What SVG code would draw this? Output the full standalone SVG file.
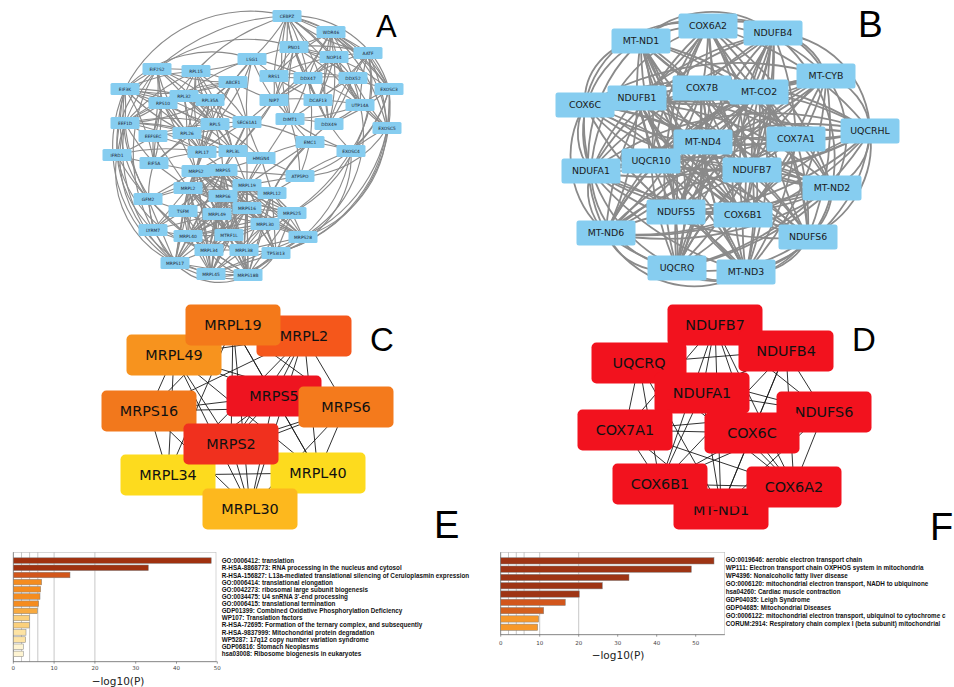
<svg xmlns="http://www.w3.org/2000/svg" xmlns:xlink="http://www.w3.org/1999/xlink" width="954" height="687" viewBox="0 0 954 687">
<style>
.ea path{fill:none;stroke:#8a8a8a;stroke-width:1.15}
.eb path{fill:none;stroke:#8a8a8a;stroke-width:1.8}
.ec path{fill:none;stroke:#1a1a1a;stroke-width:0.9}
.na text{font-family:"DejaVu Sans",sans-serif;font-size:4.4px;text-anchor:middle;fill:#1a2230}
.nb text{font-family:"DejaVu Sans",sans-serif;font-size:9.4px;text-anchor:middle;fill:#1a1a1a}
.nc text{font-family:"DejaVu Sans",sans-serif;font-size:14.4px;text-anchor:middle;fill:#111}
.lbl{font-family:"Liberation Sans",Arial,sans-serif;fill:#000}
.tick{font-family:"DejaVu Sans",sans-serif;font-size:5.5px;text-anchor:middle;fill:#444}
.xl{font-family:"DejaVu Sans",sans-serif;font-size:10.5px;text-anchor:middle;fill:#222}
.term{font-family:"Liberation Sans",Arial,sans-serif;font-weight:bold;font-size:6.3px;fill:#111}
.grid{fill:none;stroke:#b0b0b0;stroke-width:0.7}
.frame{fill:none;stroke:#bdbdbd;stroke-width:0.6}
.axis{fill:none;stroke:#555;stroke-width:0.6}
.bar{stroke:#808080;stroke-width:0.5}
</style>
<defs>
<rect id="ra" x="-14.5" y="-6" width="29" height="12" rx="1.5" fill="#86CDF0"/>
<rect id="rb" x="-29.5" y="-12.5" width="59" height="25" rx="2.5" fill="#86CDF0"/>
<rect id="rc" x="-47.5" y="-20.5" width="95" height="41" rx="5"/>
<clipPath id="clipnd1"><rect x="660" y="506.5" width="120" height="30"/></clipPath>
</defs>
<rect width="954" height="687" fill="#fff"/>

<!-- Panel A edges -->
<g id="edges-A" class="ea">
<path d="M287 16A200 200 0 0 1 331 32"/><path d="M287 16A200 200 0 0 0 294 47"/><path d="M287 16A200 200 0 0 1 334 57"/><path d="M287 16A200 200 0 0 0 368 53"/><path d="M287 16A200 200 0 0 1 252 59"/><path d="M287 16A200 200 0 0 0 274 76"/><path d="M287 16A200 200 0 0 1 308 78"/><path d="M287 16A200 200 0 0 0 353 78"/><path d="M287 16A200 200 0 0 1 274 100"/><path d="M287 16A200 200 0 0 0 318 100"/><path d="M287 16A200 200 0 0 1 360 105"/><path d="M287 16A200 200 0 0 0 290 119"/><path d="M287 16A200 200 0 0 1 329 124"/><path d="M287 16A200 200 0 0 1 389 89"/><path d="M287 16A200 200 0 0 0 196 71"/><path d="M287 16A200 200 0 0 0 157 69"/><path d="M287 16A140 140 0 0 0 125 89"/>
<path d="M331 32A200 200 0 0 1 294 47"/><path d="M331 32A200 200 0 0 0 334 57"/><path d="M331 32A200 200 0 0 1 368 53"/><path d="M331 32A200 200 0 0 0 308 78"/><path d="M331 32A200 200 0 0 1 353 78"/><path d="M331 32A200 200 0 0 1 389 89"/><path d="M331 32A200 200 0 0 0 360 105"/><path d="M331 32A200 200 0 0 1 318 100"/><path d="M331 32A200 200 0 0 0 274 76"/><path d="M331 32A200 200 0 0 1 274 100"/><path d="M331 32A200 200 0 0 0 329 124"/><path d="M331 32A200 200 0 0 1 387 128"/>
<path d="M294 47A200 200 0 0 0 334 57"/><path d="M294 47A200 200 0 0 1 368 53"/><path d="M294 47A200 200 0 0 0 308 78"/><path d="M294 47A200 200 0 0 1 353 78"/><path d="M294 47A200 200 0 0 0 274 76"/><path d="M294 47A200 200 0 0 1 274 100"/><path d="M294 47A200 200 0 0 0 318 100"/><path d="M294 47A200 200 0 0 1 360 105"/><path d="M294 47A200 200 0 0 0 290 119"/><path d="M294 47A200 200 0 0 1 389 89"/><path d="M294 47A200 200 0 0 0 252 59"/>
<path d="M334 57A200 200 0 0 1 368 53"/><path d="M334 57A200 200 0 0 0 308 78"/><path d="M334 57A200 200 0 0 1 353 78"/><path d="M334 57A200 200 0 0 0 360 105"/><path d="M334 57A200 200 0 0 1 318 100"/><path d="M334 57A200 200 0 0 0 274 76"/><path d="M334 57A200 200 0 0 1 274 100"/><path d="M334 57A200 200 0 0 0 387 128"/><path d="M334 57A200 200 0 0 1 329 124"/>
<path d="M368 53A200 200 0 0 0 353 78"/><path d="M368 53A200 200 0 0 1 389 89"/><path d="M368 53A200 200 0 0 0 360 105"/><path d="M368 53A200 200 0 0 1 318 100"/><path d="M368 53A200 200 0 0 0 308 78"/><path d="M368 53A200 200 0 0 1 387 128"/><path d="M368 53A120 120 0 0 1 351 151"/><path d="M368 53A200 200 0 0 0 329 124"/>
<path d="M252 59A200 200 0 0 1 274 76"/><path d="M252 59A200 200 0 0 0 274 100"/><path d="M252 59A200 200 0 0 1 196 71"/><path d="M252 59A200 200 0 0 0 233 82"/><path d="M252 59A200 200 0 0 1 210 100"/><path d="M252 59A200 200 0 0 0 184 96"/><path d="M252 59A200 200 0 0 1 308 78"/><path d="M252 59A200 200 0 0 0 247 122"/><path d="M252 59A200 200 0 0 1 215 124"/>
<path d="M274 76A200 200 0 0 0 308 78"/><path d="M274 76A200 200 0 0 1 274 100"/><path d="M274 76A200 200 0 0 0 318 100"/><path d="M274 76A200 200 0 0 1 353 78"/><path d="M274 76A200 200 0 0 0 290 119"/>
<path d="M308 78A200 200 0 0 1 353 78"/><path d="M308 78A200 200 0 0 0 318 100"/><path d="M308 78A200 200 0 0 1 360 105"/><path d="M308 78A200 200 0 0 0 274 100"/><path d="M308 78A200 200 0 0 1 290 119"/><path d="M308 78A200 200 0 0 0 329 124"/><path d="M308 78A200 200 0 0 1 310 142"/>
<path d="M353 78A200 200 0 0 0 389 89"/><path d="M353 78A200 200 0 0 1 360 105"/><path d="M353 78A200 200 0 0 0 318 100"/><path d="M353 78A200 200 0 0 1 329 124"/><path d="M353 78A200 200 0 0 0 387 128"/>
<path d="M389 89A200 200 0 0 1 387 128"/><path d="M389 89A120 120 0 0 1 351 151"/><path d="M389 89A200 200 0 0 0 360 105"/><path d="M389 89A200 200 0 0 1 329 124"/><path d="M389 89A150 150 0 0 1 303 237"/>
<path d="M387 128A200 200 0 0 0 351 151"/><path d="M351 151A200 200 0 0 1 329 124"/><path d="M351 151A200 200 0 0 0 310 142"/><path d="M351 151A200 200 0 0 1 290 119"/>
<path d="M360 105A200 200 0 0 0 318 100"/><path d="M360 105A200 200 0 0 1 329 124"/><path d="M360 105A200 200 0 0 0 387 128"/><path d="M360 105A200 200 0 0 1 290 119"/>
<path d="M318 100A200 200 0 0 0 274 100"/><path d="M318 100A200 200 0 0 1 290 119"/><path d="M318 100A200 200 0 0 0 329 124"/><path d="M274 100A200 200 0 0 1 290 119"/><path d="M274 100A200 200 0 0 0 247 122"/><path d="M274 100A200 200 0 0 1 233 151"/>
<path d="M290 119A200 200 0 0 0 310 142"/><path d="M290 119A200 200 0 0 1 329 124"/><path d="M310 142A200 200 0 0 0 247 122"/><path d="M310 142A200 200 0 0 1 300 176"/><path d="M310 142A200 200 0 0 0 261 158"/>
<path d="M157 69A200 200 0 0 1 196 71"/><path d="M157 69A200 200 0 0 0 125 89"/><path d="M157 69A200 200 0 0 1 184 96"/><path d="M157 69A200 200 0 0 0 163 103"/><path d="M157 69A200 200 0 0 1 210 100"/><path d="M157 69A200 200 0 0 0 125 123"/><path d="M157 69A200 200 0 0 1 215 124"/><path d="M157 69A200 200 0 0 0 187 133"/><path d="M157 69A200 200 0 0 1 154 163"/><path d="M157 69A200 200 0 0 0 233 82"/><path d="M157 69A200 200 0 0 1 153 136"/><path d="M157 69A100 100 0 0 0 117 155"/>
<path d="M196 71A200 200 0 0 0 184 96"/><path d="M196 71A200 200 0 0 1 163 103"/><path d="M196 71A200 200 0 0 0 210 100"/><path d="M196 71A200 200 0 0 1 233 82"/><path d="M196 71A200 200 0 0 0 215 124"/><path d="M196 71A200 200 0 0 1 187 133"/><path d="M196 71A200 200 0 0 0 202 152"/><path d="M196 71A200 200 0 0 1 233 151"/><path d="M196 71A200 200 0 0 0 125 89"/><path d="M196 71A200 200 0 0 1 247 122"/><path d="M196 71A200 200 0 0 0 125 123"/>
<path d="M125 89A200 200 0 0 1 184 96"/><path d="M125 89A200 200 0 0 0 163 103"/><path d="M125 89A200 200 0 0 1 125 123"/><path d="M125 89A200 200 0 0 0 187 133"/><path d="M125 89A200 200 0 0 1 154 163"/><path d="M125 89A200 200 0 0 0 210 100"/><path d="M125 89A200 200 0 0 1 215 124"/><path d="M125 89A200 200 0 0 0 117 155"/><path d="M125 89A200 200 0 0 1 202 152"/><path d="M125 89A140 140 0 0 0 175 263"/>
<path d="M184 96A200 200 0 0 0 163 103"/><path d="M184 96A200 200 0 0 1 210 100"/><path d="M184 96A200 200 0 0 0 215 124"/><path d="M184 96A200 200 0 0 1 187 133"/><path d="M184 96A200 200 0 0 0 202 152"/><path d="M184 96A200 200 0 0 1 233 151"/><path d="M184 96A200 200 0 0 0 125 123"/><path d="M184 96A200 200 0 0 1 233 82"/><path d="M184 96A200 200 0 0 0 247 122"/>
<path d="M163 103A200 200 0 0 1 210 100"/><path d="M163 103A200 200 0 0 0 215 124"/><path d="M163 103A200 200 0 0 1 187 133"/><path d="M163 103A200 200 0 0 0 202 152"/><path d="M163 103A200 200 0 0 1 125 123"/><path d="M163 103A200 200 0 0 0 153 136"/><path d="M163 103A200 200 0 0 1 233 151"/><path d="M163 103A200 200 0 0 0 154 163"/>
<path d="M210 100A200 200 0 0 1 233 82"/><path d="M210 100A200 200 0 0 0 215 124"/><path d="M210 100A200 200 0 0 1 187 133"/><path d="M210 100A200 200 0 0 0 202 152"/><path d="M210 100A200 200 0 0 1 233 151"/><path d="M210 100A200 200 0 0 0 247 122"/><path d="M210 100A200 200 0 0 1 125 123"/>
<path d="M233 82A200 200 0 0 0 215 124"/><path d="M233 82A200 200 0 0 1 187 133"/><path d="M233 82A200 200 0 0 0 202 152"/><path d="M233 82A200 200 0 0 1 247 122"/><path d="M233 82A200 200 0 0 0 125 123"/><path d="M233 82A200 200 0 0 1 125 89"/><path d="M233 82A200 200 0 0 0 274 100"/>
<path d="M125 123A200 200 0 0 1 187 133"/><path d="M125 123A200 200 0 0 0 153 136"/><path d="M125 123A200 200 0 0 1 202 152"/><path d="M125 123A200 200 0 0 0 154 163"/><path d="M125 123A200 200 0 0 1 215 124"/><path d="M125 123A200 200 0 0 0 117 155"/><path d="M125 123A200 200 0 0 1 233 151"/><path d="M125 123A200 200 0 0 0 148 199"/>
<path d="M247 122A200 200 0 0 0 215 124"/><path d="M247 122A200 200 0 0 1 187 133"/><path d="M247 122A200 200 0 0 0 202 152"/><path d="M247 122A200 200 0 0 1 233 151"/><path d="M247 122A200 200 0 0 0 261 158"/>
<path d="M215 124A200 200 0 0 1 187 133"/><path d="M215 124A200 200 0 0 0 202 152"/><path d="M215 124A200 200 0 0 1 233 151"/><path d="M215 124A200 200 0 0 0 153 136"/><path d="M215 124A200 200 0 0 1 261 158"/><path d="M215 124A200 200 0 0 0 154 163"/><path d="M215 124A200 200 0 0 1 223 170"/>
<path d="M187 133A200 200 0 0 0 202 152"/><path d="M187 133A200 200 0 0 1 233 151"/><path d="M187 133A200 200 0 0 0 153 136"/><path d="M187 133A200 200 0 0 1 154 163"/><path d="M187 133A200 200 0 0 0 261 158"/>
<path d="M153 136A200 200 0 0 1 202 152"/><path d="M153 136A200 200 0 0 0 154 163"/><path d="M153 136A200 200 0 0 1 117 155"/><path d="M202 152A200 200 0 0 0 233 151"/><path d="M202 152A200 200 0 0 1 261 158"/><path d="M202 152A200 200 0 0 0 154 163"/><path d="M202 152A200 200 0 0 1 196 171"/>
<path d="M117 155A200 200 0 0 0 154 163"/><path d="M117 155A200 200 0 0 1 202 152"/><path d="M117 155A200 200 0 0 0 148 199"/><path d="M117 155A120 120 0 0 0 153 230"/><path d="M233 151A200 200 0 0 1 261 158"/><path d="M261 158A200 200 0 0 0 247 185"/>
<path d="M290 119A200 200 0 0 1 300 176"/><path d="M310 142A200 200 0 0 0 272 193"/><path d="M351 151A150 150 0 0 1 303 237"/><path d="M351 151A200 200 0 0 0 300 176"/><path d="M387 128A150 150 0 0 1 276 253"/><path d="M351 151A200 200 0 0 1 292 213"/><path d="M329 124A200 200 0 0 0 272 193"/>
<path d="M125 123A150 150 0 0 0 175 263"/><path d="M117 155A100 100 0 0 0 175 263"/><path d="M125 89A150 150 0 0 0 188 236"/><path d="M157 69A160 160 0 0 0 153 230"/><path d="M125 123A120 120 0 0 0 211 274"/><path d="M117 155A120 120 0 0 0 209 250"/><path d="M125 89A120 120 0 0 0 148 199"/><path d="M154 163A100 100 0 0 0 175 263"/>
<path d="M389 89A150 150 0 0 1 276 253"/><path d="M387 128A120 120 0 0 1 303 237"/><path d="M368 53A150 150 0 0 1 292 213"/><path d="M389 89A120 120 0 0 1 300 176"/><path d="M387 128A100 100 0 0 1 300 176"/><path d="M351 151A100 100 0 0 1 276 253"/><path d="M360 105A120 120 0 0 1 303 237"/><path d="M331 32A120 120 0 0 1 389 89"/><path d="M287 16A100 100 0 0 1 389 89"/><path d="M287 16A120 120 0 0 1 387 128"/>
<path d="M252 59A120 120 0 0 0 125 89"/><path d="M294 47A150 150 0 0 0 157 69"/>
<path d="M202 152 223 170"/><path d="M233 151 196 171"/><path d="M233 151 223 170"/><path d="M233 151 247 185"/><path d="M261 158 223 170"/><path d="M261 158 272 193"/><path d="M187 133 196 171"/><path d="M215 124 196 171"/><path d="M154 163 196 171"/><path d="M154 163 188 188"/><path d="M202 152 188 188"/><path d="M247 122 223 170"/><path d="M247 122 247 185"/><path d="M290 119 247 185"/><path d="M274 100 223 170"/><path d="M310 142 247 185"/><path d="M261 158 300 176"/><path d="M210 100 196 171"/><path d="M163 103 196 171"/><path d="M153 136 188 188"/>
<path d="M196 171 223 170"/><path d="M196 171 188 188"/><path d="M196 171 247 185"/><path d="M196 171 272 193"/><path d="M196 171 223 196"/><path d="M196 171 247 208"/><path d="M196 171 183 211"/><path d="M196 171 217 214"/><path d="M196 171 292 213"/><path d="M196 171 265 224"/><path d="M196 171 188 236"/><path d="M196 171 229 235"/><path d="M196 171 303 237"/><path d="M196 171 209 250"/><path d="M196 171 244 250"/><path d="M196 171 175 263"/><path d="M196 171 211 274"/><path d="M196 171 248 275"/><path d="M196 171 148 199"/>
<path d="M223 170 188 188"/><path d="M223 170 247 185"/><path d="M223 170 272 193"/><path d="M223 170 223 196"/><path d="M223 170 247 208"/><path d="M223 170 183 211"/><path d="M223 170 217 214"/><path d="M223 170 292 213"/><path d="M223 170 265 224"/><path d="M223 170 188 236"/><path d="M223 170 229 235"/><path d="M223 170 303 237"/><path d="M223 170 209 250"/><path d="M223 170 244 250"/><path d="M223 170 276 253"/><path d="M223 170 175 263"/><path d="M223 170 211 274"/><path d="M223 170 248 275"/><path d="M223 170 300 176"/><path d="M223 170 148 199"/><path d="M223 170 153 230"/>
<path d="M188 188 247 185"/><path d="M188 188 272 193"/><path d="M188 188 223 196"/><path d="M188 188 247 208"/><path d="M188 188 183 211"/><path d="M188 188 217 214"/><path d="M188 188 292 213"/><path d="M188 188 265 224"/><path d="M188 188 188 236"/><path d="M188 188 229 235"/><path d="M188 188 303 237"/><path d="M188 188 209 250"/><path d="M188 188 244 250"/><path d="M188 188 175 263"/><path d="M188 188 211 274"/><path d="M188 188 248 275"/><path d="M188 188 148 199"/><path d="M188 188 153 230"/>
<path d="M247 185 272 193"/><path d="M247 185 223 196"/><path d="M247 185 247 208"/><path d="M247 185 217 214"/><path d="M247 185 292 213"/><path d="M247 185 265 224"/><path d="M247 185 188 236"/><path d="M247 185 229 235"/><path d="M247 185 303 237"/><path d="M247 185 209 250"/><path d="M247 185 244 250"/><path d="M247 185 276 253"/><path d="M247 185 211 274"/><path d="M247 185 248 275"/><path d="M247 185 300 176"/><path d="M247 185 183 211"/>
<path d="M272 193 223 196"/><path d="M272 193 247 208"/><path d="M272 193 217 214"/><path d="M272 193 292 213"/><path d="M272 193 265 224"/><path d="M272 193 303 237"/><path d="M272 193 244 250"/><path d="M272 193 276 253"/><path d="M272 193 248 275"/><path d="M272 193 300 176"/><path d="M272 193 188 236"/>
<path d="M223 196 247 208"/><path d="M223 196 217 214"/><path d="M223 196 265 224"/><path d="M223 196 188 236"/><path d="M223 196 209 250"/><path d="M223 196 244 250"/><path d="M223 196 229 235"/><path d="M223 196 175 263"/><path d="M223 196 211 274"/><path d="M223 196 248 275"/><path d="M223 196 183 211"/><path d="M223 196 292 213"/><path d="M223 196 303 237"/>
<path d="M247 208 217 214"/><path d="M247 208 292 213"/><path d="M247 208 265 224"/><path d="M247 208 188 236"/><path d="M247 208 229 235"/><path d="M247 208 209 250"/><path d="M247 208 244 250"/><path d="M247 208 175 263"/><path d="M247 208 211 274"/><path d="M247 208 248 275"/><path d="M247 208 303 237"/><path d="M247 208 276 253"/>
<path d="M217 214 265 224"/><path d="M217 214 188 236"/><path d="M217 214 229 235"/><path d="M217 214 209 250"/><path d="M217 214 244 250"/><path d="M217 214 175 263"/><path d="M217 214 211 274"/><path d="M217 214 248 275"/><path d="M217 214 183 211"/><path d="M217 214 153 230"/>
<path d="M183 211 148 199"/><path d="M183 211 188 236"/><path d="M183 211 209 250"/><path d="M183 211 229 235"/><path d="M183 211 175 263"/><path d="M183 211 153 230"/><path d="M183 211 211 274"/>
<path d="M148 199 153 230"/><path d="M148 199 175 263"/><path d="M148 199 188 236"/>
<path d="M292 213 265 224"/><path d="M292 213 303 237"/><path d="M292 213 244 250"/><path d="M292 213 276 253"/><path d="M292 213 248 275"/><path d="M292 213 188 236"/>
<path d="M265 224 188 236"/><path d="M265 224 229 235"/><path d="M265 224 303 237"/><path d="M265 224 209 250"/><path d="M265 224 244 250"/><path d="M265 224 276 253"/><path d="M265 224 248 275"/><path d="M265 224 211 274"/>
<path d="M153 230 188 236"/><path d="M153 230 175 263"/><path d="M153 230 209 250"/>
<path d="M188 236 229 235"/><path d="M188 236 209 250"/><path d="M188 236 244 250"/><path d="M188 236 175 263"/><path d="M188 236 211 274"/><path d="M188 236 248 275"/>
<path d="M229 235 209 250"/><path d="M229 235 244 250"/><path d="M229 235 248 275"/><path d="M229 235 211 274"/>
<path d="M303 237 276 253"/><path d="M303 237 244 250"/><path d="M303 237 248 275"/><path d="M303 237 211 274"/>
<path d="M209 250 244 250"/><path d="M209 250 175 263"/><path d="M209 250 211 274"/><path d="M209 250 248 275"/>
<path d="M244 250 276 253"/><path d="M244 250 211 274"/><path d="M244 250 248 275"/><path d="M276 253 248 275"/><path d="M276 253 211 274"/><path d="M175 263 211 274"/><path d="M175 263 248 275"/><path d="M211 274 248 275"/>
<path d="M175 263A60 60 0 0 0 248 275"/><path d="M211 274A50 50 0 0 0 276 253"/><path d="M175 263A80 80 0 0 0 276 253"/><path d="M209 250A50 50 0 0 0 248 275"/>
</g>

<!-- Panel A nodes -->
<g class="na">
<g id="A_CEBPZ" transform="translate(287 16)"><use href="#ra"/><text y="1.6">CEBPZ</text></g>
<g id="A_WDR46" transform="translate(331 32)"><use href="#ra"/><text y="1.6">WDR46</text></g>
<g id="A_PNO1" transform="translate(294 47)"><use href="#ra"/><text y="1.6">PNO1</text></g>
<g id="A_NOP14" transform="translate(334 57)"><use href="#ra"/><text y="1.6">NOP14</text></g>
<g id="A_AATF" transform="translate(368 53)"><use href="#ra"/><text y="1.6">AATF</text></g>
<g id="A_LSG1" transform="translate(252 59)"><use href="#ra"/><text y="1.6">LSG1</text></g>
<g id="A_EIF2S2" transform="translate(157 69)"><use href="#ra"/><text y="1.6">EIF2S2</text></g>
<g id="A_RPL15" transform="translate(196 71)"><use href="#ra"/><text y="1.6">RPL15</text></g>
<g id="A_RRS1" transform="translate(274 76)"><use href="#ra"/><text y="1.6">RRS1</text></g>
<g id="A_DDX47" transform="translate(308 78)"><use href="#ra"/><text y="1.6">DDX47</text></g>
<g id="A_DDX52" transform="translate(353 78)"><use href="#ra"/><text y="1.6">DDX52</text></g>
<g id="A_ABCE1" transform="translate(233 82)"><use href="#ra"/><text y="1.6">ABCE1</text></g>
<g id="A_EIF3K" transform="translate(125 89)"><use href="#ra"/><text y="1.6">EIF3K</text></g>
<g id="A_EXOSC3" transform="translate(389 89)"><use href="#ra"/><text y="1.6">EXOSC3</text></g>
<g id="A_RPL32" transform="translate(184 96)"><use href="#ra"/><text y="1.6">RPL32</text></g>
<g id="A_RPS10" transform="translate(163 103)"><use href="#ra"/><text y="1.6">RPS10</text></g>
<g id="A_RPL35A" transform="translate(210 100)"><use href="#ra"/><text y="1.6">RPL35A</text></g>
<g id="A_NIP7" transform="translate(274 100)"><use href="#ra"/><text y="1.6">NIP7</text></g>
<g id="A_DCAF13" transform="translate(318 100)"><use href="#ra"/><text y="1.6">DCAF13</text></g>
<g id="A_UTP14A" transform="translate(360 105)"><use href="#ra"/><text y="1.6">UTP14A</text></g>
<g id="A_EEF1D" transform="translate(125 123)"><use href="#ra"/><text y="1.6">EEF1D</text></g>
<g id="A_DIMT1" transform="translate(290 119)"><use href="#ra"/><text y="1.6">DIMT1</text></g>
<g id="A_RPL5" transform="translate(215 124)"><use href="#ra"/><text y="1.6">RPL5</text></g>
<g id="A_SEC61A1" transform="translate(247 122)"><use href="#ra"/><text y="1.6">SEC61A1</text></g>
<g id="A_DDX49" transform="translate(329 124)"><use href="#ra"/><text y="1.6">DDX49</text></g>
<g id="A_EXOSC5" transform="translate(387 128)"><use href="#ra"/><text y="1.6">EXOSC5</text></g>
<g id="A_RPL26" transform="translate(187 133)"><use href="#ra"/><text y="1.6">RPL26</text></g>
<g id="A_EEFSEC" transform="translate(153 136)"><use href="#ra"/><text y="1.6">EEFSEC</text></g>
<g id="A_EMC1" transform="translate(310 142)"><use href="#ra"/><text y="1.6">EMC1</text></g>
<g id="A_EXOSC4" transform="translate(351 151)"><use href="#ra"/><text y="1.6">EXOSC4</text></g>
<g id="A_IFRD1" transform="translate(117 155)"><use href="#ra"/><text y="1.6">IFRD1</text></g>
<g id="A_RPL17" transform="translate(202 152)"><use href="#ra"/><text y="1.6">RPL17</text></g>
<g id="A_RPL3L" transform="translate(233 151)"><use href="#ra"/><text y="1.6">RPL3L</text></g>
<g id="A_HMGN4" transform="translate(261 158)"><use href="#ra"/><text y="1.6">HMGN4</text></g>
<g id="A_EIF5A" transform="translate(154 163)"><use href="#ra"/><text y="1.6">EIF5A</text></g>
<g id="A_MRPS2" transform="translate(196 171)"><use href="#ra"/><text y="1.6">MRPS2</text></g>
<g id="A_MRPS5" transform="translate(223 170)"><use href="#ra"/><text y="1.6">MRPS5</text></g>
<g id="A_ATP5PO" transform="translate(300 176)"><use href="#ra"/><text y="1.6">ATP5PO</text></g>
<g id="A_MRPL2" transform="translate(188 188)"><use href="#ra"/><text y="1.6">MRPL2</text></g>
<g id="A_MRPL19" transform="translate(247 185)"><use href="#ra"/><text y="1.6">MRPL19</text></g>
<g id="A_MRPL12" transform="translate(272 193)"><use href="#ra"/><text y="1.6">MRPL12</text></g>
<g id="A_MRPS6" transform="translate(223 196)"><use href="#ra"/><text y="1.6">MRPS6</text></g>
<g id="A_GFM2" transform="translate(148 199)"><use href="#ra"/><text y="1.6">GFM2</text></g>
<g id="A_MRPS16" transform="translate(247 208)"><use href="#ra"/><text y="1.6">MRPS16</text></g>
<g id="A_TSFM" transform="translate(183 211)"><use href="#ra"/><text y="1.6">TSFM</text></g>
<g id="A_MRPL49" transform="translate(217 214)"><use href="#ra"/><text y="1.6">MRPL49</text></g>
<g id="A_MRPS25" transform="translate(292 213)"><use href="#ra"/><text y="1.6">MRPS25</text></g>
<g id="A_MRPL30" transform="translate(265 224)"><use href="#ra"/><text y="1.6">MRPL30</text></g>
<g id="A_LYRM7" transform="translate(153 230)"><use href="#ra"/><text y="1.6">LYRM7</text></g>
<g id="A_MRPL40" transform="translate(188 236)"><use href="#ra"/><text y="1.6">MRPL40</text></g>
<g id="A_MTRF1L" transform="translate(229 235)"><use href="#ra"/><text y="1.6">MTRF1L</text></g>
<g id="A_MRPS28" transform="translate(303 237)"><use href="#ra"/><text y="1.6">MRPS28</text></g>
<g id="A_MRPL34" transform="translate(209 250)"><use href="#ra"/><text y="1.6">MRPL34</text></g>
<g id="A_MRPL38" transform="translate(244 250)"><use href="#ra"/><text y="1.6">MRPL38</text></g>
<g id="A_TP53I13" transform="translate(276 253)"><use href="#ra"/><text y="1.6">TP53I13</text></g>
<g id="A_MRPS17" transform="translate(175 263)"><use href="#ra"/><text y="1.6">MRPS17</text></g>
<g id="A_MRPL45" transform="translate(211 274)"><use href="#ra"/><text y="1.6">MRPL45</text></g>
<g id="A_MRPS18B" transform="translate(248 275)"><use href="#ra"/><text y="1.6">MRPS18B</text></g>
</g>

<!-- Panel B edges -->
<g id="edges-B" class="eb">
<path d="M641 41A60 60 0 0 1 708 26"/><path d="M708 26A60 60 0 0 1 773 33"/><path d="M773 33A60 60 0 0 1 826 76"/><path d="M826 76A60 60 0 0 1 870 131"/><path d="M870 131A60 60 0 0 1 832 188"/><path d="M832 188A60 60 0 0 1 808 237"/><path d="M808 237A60 60 0 0 1 746 272"/><path d="M746 272A60 60 0 0 1 677 268"/><path d="M677 268A60 60 0 0 1 606 233"/><path d="M606 233A60 60 0 0 1 591 171"/><path d="M591 171A60 60 0 0 1 585 105"/><path d="M585 105A60 60 0 0 1 641 41"/>
<path d="M641 41A100 100 0 0 1 773 33"/><path d="M708 26A100 100 0 0 1 826 76"/><path d="M773 33A100 100 0 0 1 870 131"/><path d="M826 76A100 100 0 0 1 832 188"/><path d="M870 131A100 100 0 0 1 808 237"/><path d="M832 188A100 100 0 0 1 746 272"/><path d="M808 237A100 100 0 0 1 677 268"/><path d="M746 272A100 100 0 0 1 606 233"/><path d="M677 268A100 100 0 0 1 591 171"/><path d="M606 233A100 100 0 0 1 585 105"/><path d="M591 171A100 100 0 0 1 641 41"/><path d="M585 105A100 100 0 0 1 708 26"/>
<path d="M641 41A160 160 0 0 1 826 76"/><path d="M870 131A160 160 0 0 1 746 272"/><path d="M677 268A160 160 0 0 1 585 105"/><path d="M591 171A160 160 0 0 1 708 26"/><path d="M773 33A160 160 0 0 1 832 188"/><path d="M808 237A160 160 0 0 1 606 233"/><path d="M606 233A160 160 0 0 1 641 41"/>
<path d="M641 41A300 300 0 0 0 702 88"/><path d="M641 41A300 300 0 0 1 759 92"/><path d="M641 41A300 300 0 0 0 637 98"/><path d="M641 41A300 300 0 0 0 870 131"/><path d="M641 41A300 300 0 0 1 796 139"/><path d="M641 41A300 300 0 0 0 703 142"/><path d="M641 41A300 300 0 0 1 651 161"/><path d="M641 41A300 300 0 0 1 752 170"/><path d="M641 41A300 300 0 0 0 832 188"/><path d="M641 41A300 300 0 0 1 676 212"/><path d="M641 41A300 300 0 0 0 743 215"/><path d="M641 41A300 300 0 0 0 808 237"/><path d="M641 41A300 300 0 0 1 677 268"/><path d="M641 41A300 300 0 0 0 746 272"/>
<path d="M708 26A300 300 0 0 1 702 88"/><path d="M708 26A300 300 0 0 0 759 92"/><path d="M708 26A300 300 0 0 1 637 98"/><path d="M708 26A300 300 0 0 1 870 131"/><path d="M708 26A300 300 0 0 0 796 139"/><path d="M708 26A300 300 0 0 1 703 142"/><path d="M708 26A300 300 0 0 0 651 161"/><path d="M708 26A300 300 0 0 0 752 170"/><path d="M708 26A300 300 0 0 1 832 188"/><path d="M708 26A300 300 0 0 0 676 212"/><path d="M708 26A300 300 0 0 1 743 215"/><path d="M708 26A300 300 0 0 0 606 233"/><path d="M708 26A300 300 0 0 1 808 237"/><path d="M708 26A300 300 0 0 0 677 268"/><path d="M708 26A300 300 0 0 1 746 272"/>
<path d="M773 33A300 300 0 0 0 702 88"/><path d="M773 33A300 300 0 0 1 759 92"/><path d="M773 33A300 300 0 0 0 637 98"/><path d="M773 33A300 300 0 0 1 585 105"/><path d="M773 33A300 300 0 0 1 796 139"/><path d="M773 33A300 300 0 0 0 703 142"/><path d="M773 33A300 300 0 0 1 651 161"/><path d="M773 33A300 300 0 0 0 591 171"/><path d="M773 33A300 300 0 0 1 752 170"/><path d="M773 33A300 300 0 0 1 676 212"/><path d="M773 33A300 300 0 0 0 743 215"/><path d="M773 33A300 300 0 0 1 606 233"/><path d="M773 33A300 300 0 0 0 808 237"/><path d="M773 33A300 300 0 0 1 677 268"/><path d="M773 33A300 300 0 0 0 746 272"/>
<path d="M826 76A300 300 0 0 1 702 88"/><path d="M826 76A300 300 0 0 0 759 92"/><path d="M826 76A300 300 0 0 1 637 98"/><path d="M826 76A300 300 0 0 0 585 105"/><path d="M826 76A300 300 0 0 0 796 139"/><path d="M826 76A300 300 0 0 1 703 142"/><path d="M826 76A300 300 0 0 0 651 161"/><path d="M826 76A300 300 0 0 1 591 171"/><path d="M826 76A300 300 0 0 0 752 170"/><path d="M826 76A300 300 0 0 0 676 212"/><path d="M826 76A300 300 0 0 1 743 215"/><path d="M826 76A300 300 0 0 0 606 233"/><path d="M826 76A300 300 0 0 1 808 237"/><path d="M826 76A300 300 0 0 0 677 268"/><path d="M826 76A300 300 0 0 1 746 272"/>
<path d="M702 88A300 300 0 0 1 759 92"/><path d="M702 88A300 300 0 0 0 637 98"/><path d="M702 88A300 300 0 0 1 585 105"/><path d="M702 88A300 300 0 0 0 870 131"/><path d="M702 88A300 300 0 0 1 796 139"/><path d="M702 88A300 300 0 0 0 703 142"/><path d="M702 88A300 300 0 0 1 651 161"/><path d="M702 88A300 300 0 0 0 591 171"/><path d="M702 88A300 300 0 0 1 752 170"/><path d="M702 88A300 300 0 0 0 832 188"/><path d="M702 88A300 300 0 0 1 676 212"/><path d="M702 88A300 300 0 0 0 743 215"/><path d="M702 88A300 300 0 0 1 606 233"/><path d="M702 88A300 300 0 0 0 808 237"/><path d="M702 88A300 300 0 0 1 677 268"/><path d="M702 88A300 300 0 0 0 746 272"/>
<path d="M759 92A300 300 0 0 1 637 98"/><path d="M759 92A300 300 0 0 0 585 105"/><path d="M759 92A300 300 0 0 1 870 131"/><path d="M759 92A300 300 0 0 0 796 139"/><path d="M759 92A300 300 0 0 1 703 142"/><path d="M759 92A300 300 0 0 0 651 161"/><path d="M759 92A300 300 0 0 1 591 171"/><path d="M759 92A300 300 0 0 0 752 170"/><path d="M759 92A300 300 0 0 1 832 188"/><path d="M759 92A300 300 0 0 0 676 212"/><path d="M759 92A300 300 0 0 1 743 215"/><path d="M759 92A300 300 0 0 0 606 233"/><path d="M759 92A300 300 0 0 1 808 237"/><path d="M759 92A300 300 0 0 0 677 268"/><path d="M759 92A300 300 0 0 1 746 272"/>
<path d="M637 98A300 300 0 0 1 585 105"/><path d="M637 98A300 300 0 0 0 870 131"/><path d="M637 98A300 300 0 0 1 796 139"/><path d="M637 98A300 300 0 0 0 703 142"/><path d="M637 98A300 300 0 0 1 651 161"/><path d="M637 98A300 300 0 0 0 591 171"/><path d="M637 98A300 300 0 0 1 752 170"/><path d="M637 98A300 300 0 0 0 832 188"/><path d="M637 98A300 300 0 0 1 676 212"/><path d="M637 98A300 300 0 0 0 743 215"/><path d="M637 98A300 300 0 0 1 606 233"/><path d="M637 98A300 300 0 0 0 808 237"/><path d="M637 98A300 300 0 0 1 677 268"/><path d="M637 98A300 300 0 0 0 746 272"/>
<path d="M585 105A300 300 0 0 1 870 131"/><path d="M585 105A300 300 0 0 0 796 139"/><path d="M585 105A300 300 0 0 1 703 142"/><path d="M585 105A300 300 0 0 0 651 161"/><path d="M585 105A300 300 0 0 0 752 170"/><path d="M585 105A300 300 0 0 1 832 188"/><path d="M585 105A300 300 0 0 0 676 212"/><path d="M585 105A300 300 0 0 1 743 215"/><path d="M585 105A300 300 0 0 1 808 237"/><path d="M585 105A300 300 0 0 1 746 272"/>
<path d="M870 131A300 300 0 0 1 796 139"/><path d="M870 131A300 300 0 0 0 703 142"/><path d="M870 131A300 300 0 0 1 651 161"/><path d="M870 131A300 300 0 0 0 591 171"/><path d="M870 131A300 300 0 0 1 752 170"/><path d="M870 131A300 300 0 0 1 676 212"/><path d="M870 131A300 300 0 0 0 743 215"/><path d="M870 131A300 300 0 0 1 606 233"/><path d="M870 131A300 300 0 0 1 677 268"/>
<path d="M796 139A300 300 0 0 1 703 142"/><path d="M796 139A300 300 0 0 0 651 161"/><path d="M796 139A300 300 0 0 1 591 171"/><path d="M796 139A300 300 0 0 0 752 170"/><path d="M796 139A300 300 0 0 1 832 188"/><path d="M796 139A300 300 0 0 0 676 212"/><path d="M796 139A300 300 0 0 1 743 215"/><path d="M796 139A300 300 0 0 0 606 233"/><path d="M796 139A300 300 0 0 1 808 237"/><path d="M796 139A300 300 0 0 0 677 268"/><path d="M796 139A300 300 0 0 1 746 272"/>
<path d="M703 142A300 300 0 0 1 651 161"/><path d="M703 142A300 300 0 0 0 591 171"/><path d="M703 142A300 300 0 0 1 752 170"/><path d="M703 142A300 300 0 0 0 832 188"/><path d="M703 142A300 300 0 0 1 676 212"/><path d="M703 142A300 300 0 0 0 743 215"/><path d="M703 142A300 300 0 0 1 606 233"/><path d="M703 142A300 300 0 0 0 808 237"/><path d="M703 142A300 300 0 0 1 677 268"/><path d="M703 142A300 300 0 0 0 746 272"/>
<path d="M651 161A300 300 0 0 1 591 171"/><path d="M651 161A300 300 0 0 0 752 170"/><path d="M651 161A300 300 0 0 1 832 188"/><path d="M651 161A300 300 0 0 0 676 212"/><path d="M651 161A300 300 0 0 1 743 215"/><path d="M651 161A300 300 0 0 0 606 233"/><path d="M651 161A300 300 0 0 1 808 237"/><path d="M651 161A300 300 0 0 0 677 268"/><path d="M651 161A300 300 0 0 1 746 272"/>
<path d="M591 171A300 300 0 0 1 752 170"/><path d="M591 171A300 300 0 0 0 832 188"/><path d="M591 171A300 300 0 0 1 676 212"/><path d="M591 171A300 300 0 0 0 743 215"/><path d="M591 171A300 300 0 0 0 808 237"/><path d="M591 171A300 300 0 0 0 746 272"/>
<path d="M752 170A300 300 0 0 1 832 188"/><path d="M752 170A300 300 0 0 0 676 212"/><path d="M752 170A300 300 0 0 1 743 215"/><path d="M752 170A300 300 0 0 0 606 233"/><path d="M752 170A300 300 0 0 1 808 237"/><path d="M752 170A300 300 0 0 0 677 268"/><path d="M752 170A300 300 0 0 1 746 272"/>
<path d="M832 188A300 300 0 0 1 676 212"/><path d="M832 188A300 300 0 0 0 743 215"/><path d="M832 188A300 300 0 0 1 606 233"/><path d="M832 188A300 300 0 0 1 677 268"/>
<path d="M676 212A300 300 0 0 1 743 215"/><path d="M676 212A300 300 0 0 0 606 233"/><path d="M676 212A300 300 0 0 1 808 237"/><path d="M676 212A300 300 0 0 0 677 268"/><path d="M676 212A300 300 0 0 1 746 272"/>
<path d="M743 215A300 300 0 0 1 606 233"/><path d="M743 215A300 300 0 0 0 808 237"/><path d="M743 215A300 300 0 0 1 677 268"/><path d="M743 215A300 300 0 0 0 746 272"/>
</g>

<!-- Panel B nodes -->
<g class="nb">
<g id="B_COX6A2" transform="translate(708 26)"><use href="#rb"/><text y="3.4">COX6A2</text></g>
<g id="B_NDUFB4" transform="translate(773 33)"><use href="#rb"/><text y="3.4">NDUFB4</text></g>
<g id="B_MT-ND1" transform="translate(641 41)"><use href="#rb"/><text y="3.4">MT-ND1</text></g>
<g id="B_MT-CYB" transform="translate(826 76)"><use href="#rb"/><text y="3.4">MT-CYB</text></g>
<g id="B_COX7B" transform="translate(702 88)"><use href="#rb"/><text y="3.4">COX7B</text></g>
<g id="B_MT-CO2" transform="translate(759 92)"><use href="#rb"/><text y="3.4">MT-CO2</text></g>
<g id="B_COX6C" transform="translate(585 105)"><use href="#rb"/><text y="3.4">COX6C</text></g>
<g id="B_NDUFB1" transform="translate(637 98)"><use href="#rb"/><text y="3.4">NDUFB1</text></g>
<g id="B_UQCRHL" transform="translate(870 131)"><use href="#rb"/><text y="3.4">UQCRHL</text></g>
<g id="B_COX7A1" transform="translate(796 139)"><use href="#rb"/><text y="3.4">COX7A1</text></g>
<g id="B_NDUFA1" transform="translate(591 171)"><use href="#rb"/><text y="3.4">NDUFA1</text></g>
<g id="B_UQCR10" transform="translate(651 161)"><use href="#rb"/><text y="3.4">UQCR10</text></g>
<g id="B_MT-ND4" transform="translate(703 142)"><use href="#rb"/><text y="3.4">MT-ND4</text></g>
<g id="B_NDUFB7" transform="translate(752 170)"><use href="#rb"/><text y="3.4">NDUFB7</text></g>
<g id="B_MT-ND2" transform="translate(832 188)"><use href="#rb"/><text y="3.4">MT-ND2</text></g>
<g id="B_NDUFS5" transform="translate(676 212)"><use href="#rb"/><text y="3.4">NDUFS5</text></g>
<g id="B_COX6B1" transform="translate(743 215)"><use href="#rb"/><text y="3.4">COX6B1</text></g>
<g id="B_MT-ND6" transform="translate(606 233)"><use href="#rb"/><text y="3.4">MT-ND6</text></g>
<g id="B_NDUFS6" transform="translate(808 237)"><use href="#rb"/><text y="3.4">NDUFS6</text></g>
<g id="B_UQCRQ" transform="translate(677 268)"><use href="#rb"/><text y="3.4">UQCRQ</text></g>
<g id="B_MT-ND3" transform="translate(746 272)"><use href="#rb"/><text y="3.4">MT-ND3</text></g>
</g>

<!-- Panel C edges -->
<g id="edges-C" class="ec">
<path d="M233 325 304 336"/><path d="M233 325 174 355"/><path d="M233 325 274 396"/><path d="M233 325 149 411"/><path d="M233 325 346 407"/><path d="M233 325 231 444"/><path d="M233 325 168 475"/><path d="M233 325 318 473"/><path d="M233 325 250 509"/>
<path d="M304 336 174 355"/><path d="M304 336 274 396"/><path d="M304 336 149 411"/><path d="M304 336 346 407"/><path d="M304 336 231 444"/><path d="M304 336 168 475"/><path d="M304 336 318 473"/><path d="M304 336 250 509"/>
<path d="M174 355 274 396"/><path d="M174 355 149 411"/><path d="M174 355 346 407"/><path d="M174 355 231 444"/><path d="M174 355 168 475"/><path d="M174 355 318 473"/><path d="M174 355 250 509"/>
<path d="M274 396 149 411"/><path d="M274 396 346 407"/><path d="M274 396 231 444"/><path d="M274 396 168 475"/><path d="M274 396 318 473"/><path d="M274 396 250 509"/>
<path d="M149 411 346 407"/><path d="M149 411 231 444"/><path d="M149 411 168 475"/><path d="M149 411 318 473"/><path d="M149 411 250 509"/>
<path d="M346 407 231 444"/><path d="M346 407 168 475"/><path d="M346 407 318 473"/><path d="M346 407 250 509"/>
<path d="M231 444 168 475"/><path d="M231 444 318 473"/><path d="M231 444 250 509"/><path d="M168 475 318 473"/><path d="M168 475 250 509"/><path d="M318 473 250 509"/>
</g>

<!-- Panel C nodes -->
<g class="nc">
<g id="C_MRPL49" transform="translate(174 355)"><use href="#rc" fill="#F7931E"/><text y="5.2">MRPL49</text></g>
<g id="C_MRPL2" transform="translate(304 336)"><use href="#rc" fill="#F5571B"/><text y="5.2">MRPL2</text></g>
<g id="C_MRPL19" transform="translate(233 325)"><use href="#rc" fill="#F4791A"/><text y="5.2">MRPL19</text></g>
<g id="C_MRPS16" transform="translate(149 411)"><use href="#rc" fill="#F2781C"/><text y="5.2">MRPS16</text></g>
<g id="C_MRPS5" transform="translate(274 396)"><use href="#rc" fill="#EE1420"/><text y="5.2">MRPS5</text></g>
<g id="C_MRPS6" transform="translate(346 407)"><use href="#rc" fill="#F47A1C"/><text y="5.2">MRPS6</text></g>
<g id="C_MRPL34" transform="translate(168 475)"><use href="#rc" fill="#FDDB1E"/><text y="5.2">MRPL34</text></g>
<g id="C_MRPL40" transform="translate(318 473)"><use href="#rc" fill="#FDDB1E"/><text y="5.2">MRPL40</text></g>
<g id="C_MRPL30" transform="translate(250 509)"><use href="#rc" fill="#FDB81E"/><text y="5.2">MRPL30</text></g>
<g id="C_MRPS2" transform="translate(231 444)"><use href="#rc" fill="#F0301E"/><text y="5.2">MRPS2</text></g>
</g>

<!-- Panel D edges -->
<g id="edges-D" class="ec">
<path d="M715 325 786 351"/><path d="M715 325 639 363"/><path d="M715 325 702 393"/><path d="M715 325 824 412"/><path d="M715 325 625 430"/><path d="M715 325 752 433"/><path d="M715 325 660 484"/><path d="M715 325 794 487"/><path d="M715 325 721 509"/>
<path d="M786 351 639 363"/><path d="M786 351 702 393"/><path d="M786 351 824 412"/><path d="M786 351 625 430"/><path d="M786 351 752 433"/><path d="M786 351 660 484"/><path d="M786 351 794 487"/><path d="M786 351 721 509"/>
<path d="M639 363 702 393"/><path d="M639 363 824 412"/><path d="M639 363 625 430"/><path d="M639 363 752 433"/><path d="M639 363 660 484"/><path d="M639 363 794 487"/><path d="M639 363 721 509"/>
<path d="M702 393 824 412"/><path d="M702 393 625 430"/><path d="M702 393 752 433"/><path d="M702 393 660 484"/><path d="M702 393 794 487"/><path d="M702 393 721 509"/>
<path d="M824 412 625 430"/><path d="M824 412 752 433"/><path d="M824 412 660 484"/><path d="M824 412 794 487"/><path d="M824 412 721 509"/>
<path d="M625 430 752 433"/><path d="M625 430 660 484"/><path d="M625 430 794 487"/><path d="M625 430 721 509"/>
<path d="M752 433 660 484"/><path d="M752 433 794 487"/><path d="M752 433 721 509"/><path d="M660 484 794 487"/><path d="M660 484 721 509"/><path d="M794 487 721 509"/>
</g>

<!-- Panel D nodes -->
<g class="nc">
<g id="D_MT-ND1"><rect x="673.5" y="488.5" width="95" height="41" rx="5" fill="#F2121E"/><text x="721" y="515" clip-path="url(#clipnd1)">MT-ND1</text></g>
<g id="D_NDUFB7" transform="translate(715 325)"><use href="#rc" fill="#F2121E"/><text y="5.2">NDUFB7</text></g>
<g id="D_NDUFB4" transform="translate(786 351)"><use href="#rc" fill="#F2121E"/><text y="5.2">NDUFB4</text></g>
<g id="D_UQCRQ" transform="translate(639 363)"><use href="#rc" fill="#F2121E"/><text y="5.2">UQCRQ</text></g>
<g id="D_NDUFA1" transform="translate(702 393)"><use href="#rc" fill="#F2121E"/><text y="5.2">NDUFA1</text></g>
<g id="D_NDUFS6" transform="translate(824 412)"><use href="#rc" fill="#F2121E"/><text y="5.2">NDUFS6</text></g>
<g id="D_COX7A1" transform="translate(625 430)"><use href="#rc" fill="#F2121E"/><text y="5.2">COX7A1</text></g>
<g id="D_COX6C" transform="translate(752 433)"><use href="#rc" fill="#F2121E"/><text y="5.2">COX6C</text></g>
<g id="D_COX6B1" transform="translate(660 484)"><use href="#rc" fill="#F2121E"/><text y="5.2">COX6B1</text></g>
<g id="D_COX6A2" transform="translate(794 487)"><use href="#rc" fill="#F2121E"/><text y="5.2">COX6A2</text></g>
</g>

<!-- Panel letters -->
<g class="lbl">
<text x="376" y="37" font-size="31">A</text>
<text x="858" y="37" font-size="37">B</text>
<text x="370" y="351" font-size="33">C</text>
<text x="852" y="351" font-size="33">D</text>
<text x="434" y="537.5" font-size="38">E</text>
<text x="930" y="540" font-size="38">F</text>
</g>

<!-- Panel E chart -->
<g id="chart-E">
<rect class="frame" x="13.3" y="552.3" width="202.7" height="109.4"/>
<path class="grid" d="M21.5 552.3V661.7M29.6 552.3V661.7M37.8 552.3V661.7M54.1 552.3V661.7M94.9 552.3V661.7"/>
<path class="axis" d="M13.3 552.3V661.7H217.3M13.3 661.7v2M54.1 661.7v2M94.9 661.7v2M135.7 661.7v2M176.5 661.7v2M217.3 661.7v2"/>
<g class="bar">
<rect x="13.3" y="557.8" width="197.9" height="5.6" fill="#A0310F"/>
<rect x="13.3" y="565.0" width="135" height="5.6" fill="#A0310F"/>
<rect x="13.3" y="572.2" width="56.7" height="5.6" fill="#D2561A"/>
<rect x="13.3" y="579.3" width="28.4" height="5.6" fill="#F58C1F"/>
<rect x="13.3" y="586.5" width="27.4" height="5.6" fill="#F58C1F"/>
<rect x="13.3" y="593.7" width="26.7" height="5.6" fill="#F58C1F"/>
<rect x="13.3" y="600.9" width="25.4" height="5.6" fill="#F58C1F"/>
<rect x="13.3" y="608.1" width="24" height="5.6" fill="#F8AA40"/>
<rect x="13.3" y="615.2" width="16" height="5.6" fill="#FBD07C"/>
<rect x="13.3" y="622.4" width="16" height="5.6" fill="#FBD07C"/>
<rect x="13.3" y="629.6" width="12.7" height="5.6" fill="#FDE3A4"/>
<rect x="13.3" y="636.8" width="12.4" height="5.6" fill="#FDE3A4"/>
<rect x="13.3" y="644.0" width="10" height="5.6" fill="#FEF4D2"/>
<rect x="13.3" y="651.1" width="10" height="5.6" fill="#FEF4D2"/>
</g>
<g class="tick"><text x="13.3" y="670">0</text><text x="54.1" y="670">10</text><text x="94.9" y="670">20</text><text x="135.7" y="670">30</text><text x="176.5" y="670">40</text><text x="217.3" y="670">50</text></g>
<text class="xl" x="118" y="684.5">−log10(P)</text>
<g class="term">
<text x="221.7" y="563.2">GO:0006412: translation</text>
<text x="221.7" y="570.3">R-HSA-8868773: RNA processing in the nucleus and cytosol</text>
<text x="221.7" y="577.5">R-HSA-156827: L13a-mediated translational silencing of Ceruloplasmin expression</text>
<text x="221.7" y="584.6">GO:0006414: translational elongation</text>
<text x="221.7" y="591.7">GO:0042273: ribosomal large subunit biogenesis</text>
<text x="221.7" y="598.9">GO:0034475: U4 snRNA 3'-end processing</text>
<text x="221.7" y="606.0">GO:0006415: translational termination</text>
<text x="221.7" y="613.1">GDP01399: Combined Oxidative Phosphorylation Deficiency</text>
<text x="221.7" y="620.2">WP107: Translation factors</text>
<text x="221.7" y="627.4">R-HSA-72695: Formation of the ternary complex, and subsequently</text>
<text x="221.7" y="634.5">R-HSA-9837999: Mitochondrial protein degradation</text>
<text x="221.7" y="641.6">WP5287: 17q12 copy number variation syndrome</text>
<text x="221.7" y="648.8">GDP06816: Stomach Neoplasms</text>
<text x="221.7" y="655.9">hsa03008: Ribosome biogenesis in eukaryotes</text>
</g>
</g>

<!-- Panel F chart -->
<g id="chart-F">
<rect class="frame" x="500.7" y="552.3" width="224" height="82.4"/>
<path class="grid" d="M508.5 552.3V634.7M516.3 552.3V634.7M524.1 552.3V634.7M539.7 552.3V634.7M578.7 552.3V634.7"/>
<path class="axis" d="M500.7 552.3V634.7H724.7M500.7 634.7v2M539.7 634.7v2M578.7 634.7v2M617.7 634.7v2M656.7 634.7v2M695.7 634.7v2"/>
<g class="bar">
<rect x="500.7" y="557.7" width="213.3" height="6.3" fill="#9E3414"/>
<rect x="500.7" y="566.0" width="190.6" height="6.3" fill="#9E3414"/>
<rect x="500.7" y="574.3" width="128.3" height="6.3" fill="#9E3414"/>
<rect x="500.7" y="582.6" width="101.6" height="6.3" fill="#9E3414"/>
<rect x="500.7" y="590.9" width="78.6" height="6.3" fill="#9E3414"/>
<rect x="500.7" y="599.2" width="64.6" height="6.3" fill="#D2561C"/>
<rect x="500.7" y="607.5" width="43" height="6.3" fill="#D4601E"/>
<rect x="500.7" y="615.8" width="38" height="6.3" fill="#F7982A"/>
<rect x="500.7" y="624.1" width="37" height="6.3" fill="#F7982A"/>
</g>
<g class="tick"><text x="500.7" y="645">0</text><text x="539.7" y="645">10</text><text x="578.7" y="645">20</text><text x="617.7" y="645">30</text><text x="656.7" y="645">40</text><text x="695.7" y="645">50</text></g>
<text class="xl" x="618" y="658.5">−log10(P)</text>
<g class="term">
<text x="725.7" y="562.3">GO:0019646: aerobic electron transport chain</text>
<text x="725.7" y="570.3">WP111: Electron transport chain OXPHOS system in mitochondria</text>
<text x="725.7" y="578.3">WP4396: Nonalcoholic fatty liver disease</text>
<text x="725.7" y="586.3">GO:0006120: mitochondrial electron transport, NADH to ubiquinone</text>
<text x="725.7" y="594.3">hsa04260: Cardiac muscle contraction</text>
<text x="725.7" y="602.3">GDP04035: Leigh Syndrome</text>
<text x="725.7" y="610.3">GDP04685: Mitochondrial Diseases</text>
<text x="725.7" y="618.3">GO:0006122: mitochondrial electron transport, ubiquinol to cytochrome c</text>
<text x="725.7" y="626.3">CORUM:2914: Respiratory chain complex I (beta subunit) mitochondrial</text>
</g>
</g>
</svg>
